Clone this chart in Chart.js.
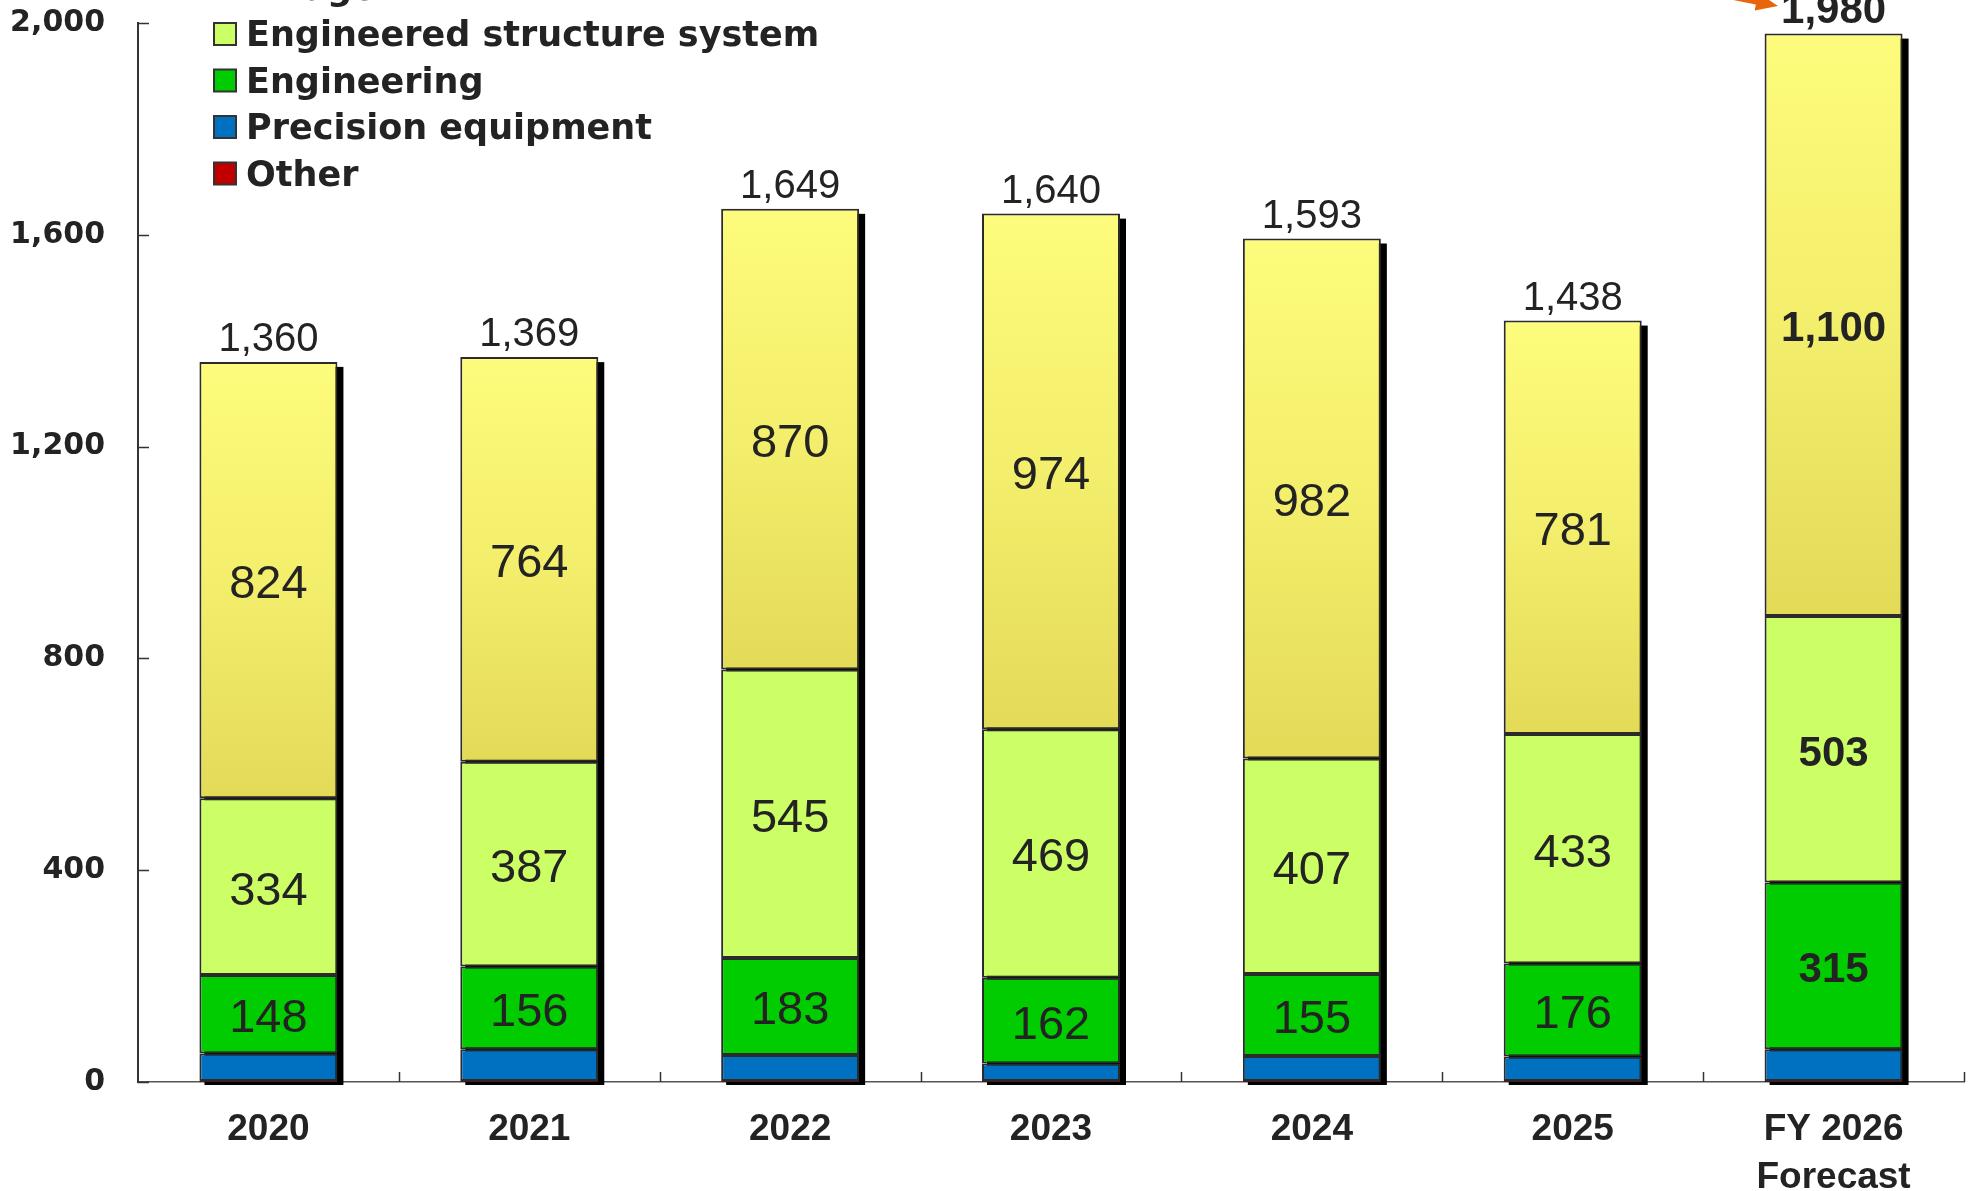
<!DOCTYPE html>
<html>
<head>
<meta charset="utf-8">
<script src="https://cdn.jsdelivr.net/npm/chart.js@4/dist/chart.umd.min.js"></script>
<style>
  html, body { margin: 0; padding: 0; background: #ffffff; }
  #wrap { width: 1972px; height: 1191px; position: relative; overflow: hidden; }
  canvas { display: block; }
</style>
</head>
<body>
<div id="wrap"><canvas id="sales" width="1972" height="1191"></canvas></div>
<script>
// Net sales by segment (stacked), fiscal years
const categories = ['2020', '2021', '2022', '2023', '2024', '2025', ['FY 2026', 'Forecast']];
const seriesNames = ['Bridge', 'Engineered structure system', 'Engineering', 'Precision equipment', 'Other'];
const bridge = [824, 764, 870, 974, 982, 781, 1100];
const engineeredStructure = [334, 387, 545, 469, 407, 433, 503];
const engineering = [148, 156, 183, 162, 155, 176, 315];
const precision = [52, 60, 49, 33, 47, 46, 60];
const other = [2, 2, 2, 2, 2, 2, 2];
const totals = [1360, 1369, 1649, 1640, 1593, 1438, 1980];
const yTicks = [0, 400, 800, 1200, 1600, 2000];

const SANS = "'Liberation Sans', Arial, sans-serif";
const WIDE_BOLD = "'DejaVu Sans', Verdana, sans-serif";
const TEXT = '#232323';
const EDGE = '#2b2b2b';

const colors = {
  bridge: '#f6f170',
  engineeredStructure: '#ccff66',
  engineering: '#00cc00',
  precision: '#0070c0',
  other: '#c00000'
};

const isForecast = i => Array.isArray(categories[i]);

// Bridge segments get a vertical light-to-olive gradient per bar
function bridgeFill(ctx) {
  const chart = ctx.chart;
  const y = chart.scales && chart.scales.y;
  if (!y || ctx.type !== 'data' || !chart.chartArea) return colors.bridge;
  const i = ctx.dataIndex;
  const base = other[i] + precision[i] + engineering[i] + engineeredStructure[i];
  const top = y.getPixelForValue(base + bridge[i]);
  const bottom = y.getPixelForValue(base);
  const g = chart.ctx.createLinearGradient(0, top, 0, bottom);
  g.addColorStop(0, '#fefc7c');
  g.addColorStop(0.5, '#f3ee6b');
  g.addColorStop(1, '#e3da58');
  return g;
}

function ds(label, data, bg, border) {
  return {
    label, data,
    backgroundColor: bg,
    borderColor: border || EDGE,
    borderWidth: 2,
    borderSkipped: false,
    barPercentage: 0.529,
    categoryPercentage: 1.0
  };
}

// Drop shadow behind every full stacked column
const columnShadow = {
  id: 'columnShadow',
  beforeDatasetsDraw(chart) {
    const c = chart.ctx;
    const topMeta = chart.getDatasetMeta(4);
    const bottomMeta = chart.getDatasetMeta(0);
    c.save();
    c.fillStyle = '#000000';
    topMeta.data.forEach((el, i) => {
      const half = el.width / 2;
      const top = el.y;
      const base = bottomMeta.data[i].base;
      c.fillRect(el.x - half + 5, top + 5, el.width + 1, base - top - 2);
    });
    c.restore();
  }
};

// Short inward tick marks on both axes
const innerTicks = {
  id: 'innerTicks',
  afterDatasetsDraw(chart) {
    const c = chart.ctx, a = chart.chartArea;
    const xs = chart.scales.x, ys = chart.scales.y;
    c.save();
    c.strokeStyle = '#333333';
    c.lineWidth = 1.5;
    c.beginPath();
    yTicks.forEach(v => {
      const py = Math.round(ys.getPixelForValue(v)) + 0.5;
      c.moveTo(a.left, py);
      c.lineTo(a.left + 11, py);
    });
    for (let k = 0; k < categories.length; k++) {
      const px = Math.round(xs.getPixelForValue(k + 0.5)) + 0.5;
      c.moveTo(px, a.bottom);
      c.lineTo(px, a.bottom - 10);
    }
    c.stroke();
    c.restore();
  }
};

// Segment values inside the columns and totals above them
const valueLabels = {
  id: 'valueLabels',
  afterDatasetsDraw(chart) {
    const c = chart.ctx;
    c.save();
    c.fillStyle = TEXT;
    c.textAlign = 'center';
    [2, 3, 4].forEach(d => {
      const meta = chart.getDatasetMeta(d);
      const values = chart.data.datasets[d].data;
      meta.data.forEach((el, i) => {
        const bold = isForecast(i);
        c.font = (bold ? 'bold 42px ' : '47px ') + SANS;
        c.textBaseline = 'middle';
        c.fillText(values[i].toLocaleString('en-US'), el.x, (el.y + el.base) / 2 + 5);
      });
    });
    const topMeta = chart.getDatasetMeta(4);
    topMeta.data.forEach((el, i) => {
      const bold = isForecast(i);
      c.font = (bold ? 'bold 42px ' : '40px ') + SANS;
      c.textBaseline = 'alphabetic';
      c.fillText(totals[i].toLocaleString('en-US'), el.x, el.y - 11);
    });
    c.restore();
  }
};

// Legend block in the upper left, plus the orange pointer at the forecast total
const legendAndPointer = {
  id: 'legendAndPointer',
  afterDraw(chart) {
    const c = chart.ctx;
    const swatch = [colors.bridge, colors.engineeredStructure, colors.engineering, colors.precision, colors.other];
    c.save();
    c.font = 'bold 35px ' + WIDE_BOLD;
    c.textBaseline = 'alphabetic';
    c.textAlign = 'left';
    seriesNames.forEach((name, k) => {
      const baseY = -0.5 + k * 46.5;
      c.fillStyle = swatch[k];
      c.fillRect(214, baseY - 23, 22, 22);
      c.strokeStyle = '#333333';
      c.lineWidth = 2;
      c.strokeRect(214, baseY - 23, 22, 22);
      c.fillStyle = TEXT;
      c.fillText(name, 246, baseY);
    });

    // pointer arrow
    const tipX = 1778, tipY = 6;
    const fromX = 1640, fromY = -22;
    const ang = Math.atan2(tipY - fromY, tipX - fromX);
    c.strokeStyle = '#e8650c';
    c.fillStyle = '#e8650c';
    c.lineWidth = 6;
    c.beginPath();
    c.moveTo(fromX, fromY);
    c.lineTo(tipX - 16 * Math.cos(ang), tipY - 16 * Math.sin(ang));
    c.stroke();
    c.beginPath();
    c.moveTo(tipX, tipY);
    c.lineTo(tipX - 22 * Math.cos(ang) + 9 * Math.sin(ang), tipY - 22 * Math.sin(ang) - 9 * Math.cos(ang));
    c.lineTo(tipX - 22 * Math.cos(ang) - 9 * Math.sin(ang), tipY - 22 * Math.sin(ang) + 9 * Math.cos(ang));
    c.closePath();
    c.fill();
    c.restore();
  }
};

new Chart(document.getElementById('sales'), {
  type: 'bar',
  data: {
    labels: categories,
    datasets: [
      ds(seriesNames[4], other, colors.other, '#4a1a1a'),
      ds(seriesNames[3], precision, colors.precision),
      ds(seriesNames[2], engineering, colors.engineering),
      ds(seriesNames[1], engineeredStructure, colors.engineeredStructure),
      ds(seriesNames[0], bridge, bridgeFill)
    ]
  },
  options: {
    responsive: false,
    animation: false,
    devicePixelRatio: 1,
    layout: { padding: { top: 23, right: 8, left: 0, bottom: 0 } },
    plugins: {
      legend: { display: false },
      tooltip: { enabled: false }
    },
    scales: {
      x: {
        stacked: true,
        offset: true,
        grid: { display: false, drawTicks: false },
        border: { display: true, color: '#555555', width: 1.5 },
        ticks: {
          autoSkip: false,
          maxRotation: 0,
          padding: 24,
          color: TEXT,
          font: { family: SANS, weight: 'bold', size: 37, lineHeight: 1.29 }
        },
        afterFit(s) { s.height = 109; s.paddingLeft = 0; s.paddingRight = 0; }
      },
      y: {
        stacked: true,
        min: 0,
        max: 2000,
        grid: { display: false, drawTicks: false },
        border: { display: true, color: '#333333', width: 2 },
        afterBuildTicks(s) { s.ticks = yTicks.map(v => ({ value: v })); },
        ticks: {
          padding: 33,
          color: TEXT,
          font: { family: WIDE_BOLD, weight: 'bold', size: 30 },
          callback: v => Number(v).toLocaleString('en-US')
        },
        afterFit(s) { s.width = 138; s.paddingTop = 0; s.paddingBottom = 0; }
      }
    }
  },
  plugins: [columnShadow, innerTicks, valueLabels, legendAndPointer]
});
</script>
</body>
</html>
